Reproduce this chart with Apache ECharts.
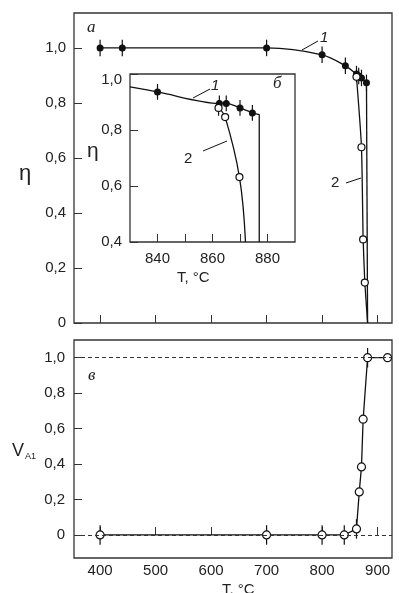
<!DOCTYPE html>
<html><head><meta charset="utf-8">
<script src="https://cdn.jsdelivr.net/npm/echarts@6/dist/echarts.min.js"></script>
<style>html,body{margin:0;padding:0;background:#fff}#c{width:399px;height:593px}</style>
</head><body><div id="c"></div>
<script>
// ---- tick values ----
const xTicks = [400, 500, 600, 700, 800, 900];
const etaTicks = [0, 0.2, 0.4, 0.6, 0.8, 1.0];
const vTicks = [0, 0.2, 0.4, 0.6, 0.8, 1.0];
const insetXTicks = [840, 850, 860, 870, 880];
const insetXLabels = [840, 860, 880];
const insetYTicks = [0.4, 0.6, 0.8, 1.0];

// ---- panel a: curve 1 (filled) ----
const aT1 = [400, 440, 700, 800, 842, 862, 866, 871, 880];
const aEta1 = [1.0, 1.0, 1.0, 0.975, 0.935, 0.905, 0.898, 0.891, 0.873];
const aErr1 = [0.03, 0.03, 0.03, 0.03, 0.03, 0.03, 0.03, 0.03, 0.03];
const aDropT = [880, 882];
const aDropEta = [0.873, 0];
// ---- panel a: curve 2 (open) ----
const aT2 = [862, 871, 874, 877];
const aEta2 = [0.895, 0.639, 0.304, 0.147];
const aEnd2T = [877, 882];
const aEnd2Eta = [0.147, 0];

// ---- inset б: curve 1 (filled) ----
const bLineStartT = [830];
const bLineStartEta = [0.954];
const bT1 = [840, 862.5, 865, 870, 874.5];
const bEta1 = [0.936, 0.895, 0.895, 0.879, 0.861];
const bErr1 = [0.028, 0.028, 0.028, 0.028, 0.028];
const bDropT = [877, 877];
const bDropEta = [0.855, 0.4];
// ---- inset б: curve 2 (open) ----
const bT2 = [862.2, 864.6, 869.8];
const bEta2 = [0.879, 0.846, 0.632];
const bErr2 = [0.028, 0, 0];
const bEnd2T = [872];
const bEnd2Eta = [0.4];

// ---- panel в: V_A1 ----
const cT = [400, 700, 800, 840, 862, 867, 871, 874, 882, 918];
const cV = [0, 0, 0, 0, 0.034, 0.243, 0.384, 0.653, 1.0, 1.0];
const cErr = [0.055, 0.055, 0.055, 0.055, 0.055, 0, 0, 0, 0.055, 0];
const cRefLines = [0, 1.0];

const INK = '#111';
const fmt = v => v === 0 ? '0' : v.toFixed(1).replace('.', ',');
const tickFont = {fontFamily: 'Liberation Sans', fontSize: 15, color: '#222'};

function pairs(xs, ys) { return xs.map((x, i) => [x, ys[i]]); }
function errBars(xi, yi, xs, ys, es) {
  return {
    type: 'custom', xAxisIndex: xi, yAxisIndex: yi, silent: true, z: 1,
    encode: {x: 0, y: 1},
    data: xs.map((x, i) => [x, ys[i], es[i]]),
    renderItem: (params, api) => {
      const e = api.value(2);
      if (!e) return null;
      const p1 = api.coord([api.value(0), api.value(1) - e]);
      const p2 = api.coord([api.value(0), api.value(1) + e]);
      return {type: 'line', shape: {x1: p1[0], y1: p1[1], x2: p2[0], y2: p2[1]},
        style: {stroke: INK, lineWidth: 1.2}};
    }
  };
}
const filled = {color: INK};
const open = {color: '#fff', borderColor: INK, borderWidth: 1.2};
function line(xi, yi, data, opts) {
  return Object.assign({
    type: 'line', xAxisIndex: xi, yAxisIndex: yi, data: data,
    lineStyle: {color: INK, width: 1.3}, symbol: 'none', silent: true,
    animation: false, z: 3
  }, opts || {});
}

const gridBorder = {show: true, borderColor: '#333', borderWidth: 1.3, backgroundColor: '#fff'};
const option = {
  animation: false,
  grid: [
    Object.assign({left: 74, top: 13, width: 318, height: 310}, gridBorder),
    Object.assign({left: 74, top: 340, width: 318, height: 218}, gridBorder),
    Object.assign({left: 130, top: 74, width: 165, height: 168, z: 5}, gridBorder)
  ],
  xAxis: [
    {type: 'value', gridIndex: 0, min: 353, max: 926,
      axisLine: {show: false}, splitLine: {show: false},
      axisTick: {inside: true, length: 8, lineStyle: {color: '#333'}, customValues: xTicks},
      axisLabel: {show: false}},
    {type: 'value', gridIndex: 1, min: 353, max: 926,
      axisLine: {show: false}, splitLine: {show: false},
      axisTick: {inside: true, length: 8, lineStyle: {color: '#333'}, customValues: xTicks},
      axisLabel: Object.assign({margin: 5, customValues: xTicks, formatter: v => String(v)}, tickFont)},
    {type: 'value', gridIndex: 2, min: 830, max: 890, z: 5,
      axisLine: {show: false}, splitLine: {show: false},
      axisTick: {inside: true, length: 8, lineStyle: {color: '#333'}, customValues: insetXTicks},
      axisLabel: Object.assign({margin: 9, customValues: insetXLabels, formatter: v => String(v)}, tickFont)}
  ],
  yAxis: [
    {type: 'value', gridIndex: 0, min: 0, max: 1.127,
      axisLine: {show: false}, splitLine: {show: false},
      axisTick: {inside: true, length: 8, lineStyle: {color: '#333'}, customValues: etaTicks},
      axisLabel: Object.assign({margin: 8, customValues: etaTicks, formatter: fmt}, tickFont)},
    {type: 'value', gridIndex: 1, min: -0.13, max: 1.1,
      axisLine: {show: false}, splitLine: {show: false},
      axisTick: {inside: true, length: 8, lineStyle: {color: '#333'}, customValues: vTicks},
      axisLabel: Object.assign({margin: 9, customValues: vTicks, formatter: fmt}, tickFont)},
    {type: 'value', gridIndex: 2, min: 0.4, max: 1.0, z: 5,
      axisLine: {show: false}, splitLine: {show: false},
      axisTick: {inside: true, length: 8, lineStyle: {color: '#333'}, customValues: insetYTicks},
      axisLabel: Object.assign({margin: 8, customValues: insetYTicks,
        formatter: v => v === 1 ? '{lo|' + fmt(v) + '}' : fmt(v),
        rich: {lo: {fontFamily: 'Liberation Sans', fontSize: 15, color: '#222', padding: [12, 0, 0, 0]}}}, tickFont)}
  ],
  series: [
    // panel a
    errBars(0, 0, aT1, aEta1, aErr1),
    line(0, 0, pairs(aT1, aEta1), {smooth: 0.35, symbol: 'circle', symbolSize: 7, itemStyle: filled}),
    line(0, 0, pairs(aDropT, aDropEta)),
    line(0, 0, pairs(aEnd2T, aEnd2Eta)),
    line(0, 0, pairs(aT2, aEta2), {smooth: 0.2, symbol: 'circle', symbolSize: 7, itemStyle: open, z: 4}),
    // panel в
    errBars(1, 1, cT, cV, cErr),
    line(1, 1, pairs(cT, cV), {symbol: 'circle', symbolSize: 8, itemStyle: open,
      markLine: {silent: true, symbol: 'none', label: {show: false}, animation: false,
        lineStyle: {color: '#333', type: [4, 3], width: 1},
        data: cRefLines.map(v => ({yAxis: v}))}}),
    // inset б
    Object.assign(errBars(2, 2, bT1, bEta1, bErr1), {z: 6}),
    Object.assign(errBars(2, 2, bT2, bEta2, bErr2), {z: 6}),
    line(2, 2, pairs(bLineStartT.concat(bT1), bLineStartEta.concat(bEta1)).map((d, i) => i === 0 ? {value: d, symbol: 'none'} : d),
      {smooth: 0.3, symbol: 'circle', symbolSize: 7, itemStyle: filled, z: 7}),
    line(2, 2, [[bT1[bT1.length - 1], bEta1[bEta1.length - 1]]].concat(pairs(bDropT, bDropEta)), {z: 7}),
    line(2, 2, pairs(bT2.concat(bEnd2T), bEta2.concat(bEnd2Eta)).map((d, i) => i === bT2.length ? {value: d, symbol: 'none'} : d),
      {smooth: 0.4, symbol: 'circle', symbolSize: 7, itemStyle: open, z: 8})
  ],
  graphic: [
    {type: 'text', left: 87, top: 19, z: 100, style: {text: 'a', font: 'italic 17px "Liberation Serif"', fill: '#222'}},
    {type: 'text', left: 273, top: 75, z: 100, style: {text: 'б', font: 'italic 17px "Liberation Serif"', fill: '#222'}},
    {type: 'text', left: 88, top: 367, z: 100, style: {text: 'в', font: 'italic 17px "Liberation Serif"', fill: '#222'}},
    // main curve labels
    {type: 'text', left: 320, top: 30, z: 100, style: {text: '1', font: 'italic 15px "Liberation Sans"', fill: '#222'}},
    {type: 'line', z: 100, shape: {x1: 302, y1: 50, x2: 318, y2: 41}, style: {stroke: INK, lineWidth: 1}},
    {type: 'text', left: 331, top: 175, z: 100, style: {text: '2', font: '15px "Liberation Sans"', fill: '#222'}},
    {type: 'line', z: 100, shape: {x1: 346, y1: 183, x2: 361, y2: 178}, style: {stroke: INK, lineWidth: 1}},
    // inset curve labels
    {type: 'text', left: 211, top: 78, z: 100, style: {text: '1', font: 'italic 15px "Liberation Sans"', fill: '#222'}},
    {type: 'line', z: 100, shape: {x1: 193, y1: 98, x2: 210, y2: 89}, style: {stroke: INK, lineWidth: 1}},
    {type: 'text', left: 184, top: 151, z: 100, style: {text: '2', font: '15px "Liberation Sans"', fill: '#222'}},
    {type: 'line', z: 100, shape: {x1: 203, y1: 151, x2: 227, y2: 141}, style: {stroke: INK, lineWidth: 1}},
    // axis names
    {type: 'text', left: 19, top: 163, z: 100, style: {text: 'η', font: '22px "Liberation Sans"', fill: '#222'}},
    {type: 'text', left: 87, top: 141, z: 100, style: {text: 'η', font: '21px "Liberation Sans"', fill: '#222'}},
    {type: 'text', left: 12, top: 442, z: 100, style: {text: 'V', font: '18px "Liberation Sans"', fill: '#222'}},
    {type: 'text', left: 25, top: 452, z: 100, style: {text: 'A1', font: '9px "Liberation Sans"', fill: '#222'}},
    {type: 'text', left: 177, top: 270, z: 100, style: {text: 'T, °C', font: '15px "Liberation Sans"', fill: '#222'}},
    {type: 'text', left: 222, top: 582, z: 100, style: {text: 'T, °C', font: '15px "Liberation Sans"', fill: '#222'}}
  ]
};
const chart = echarts.init(document.getElementById('c'), null, {renderer: 'canvas'});
chart.setOption(option);
</script>
</body></html>
